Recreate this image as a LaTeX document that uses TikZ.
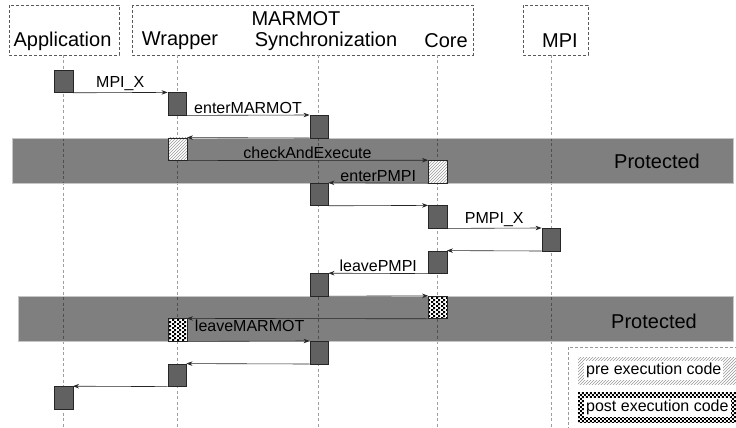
\documentclass[tikz,border=0pt]{standalone}
\usepackage{fontspec}
\setmainfont{Liberation Sans}
\usetikzlibrary{calc, positioning, patterns, arrows.meta}
% fine checker for the post execution blocks
\pgfdeclarepatternformonly{finechecker}{\pgfpointorigin}{\pgfpoint{4.4pt}{4.4pt}}{\pgfpoint{4.4pt}{4.4pt}}{
  \pgfpathrectangle{\pgfpointorigin}{\pgfpoint{2.2pt}{2.2pt}}
  \pgfpathrectangle{\pgfpoint{2.2pt}{2.2pt}}{\pgfpoint{2.2pt}{2.2pt}}
  \pgfusepath{fill}}

\begin{document}
\begin{tikzpicture}[>={Stealth[length=6pt,width=4.5pt]}, x=1pt, y=-1pt,
  head/.style={font=\fontsize{20}{22}\selectfont, inner sep=0pt},
  lbl/.style={font=\fontsize{16}{18}\selectfont, inner sep=1.5pt, text=black},
  act/.style={draw=black!85, fill=black!62, minimum width=18.5pt, minimum height=22.6pt, inner sep=0pt, line width=0.4pt},
  pre/.style={act, preaction={fill=white}, pattern=north east lines, pattern color=gray!80},
  post/.style={act, preaction={fill=white}, pattern=finechecker, pattern color=black},
  msg/.style={->, line width=0.6pt, black!85},
  life/.style={dash pattern=on 3pt off 2.5pt, gray!75, line width=0.7pt},
  hbox/.style={dash pattern=on 3pt off 2pt, black!65, line width=0.6pt},
  band/.style={fill=black, fill opacity=0.5, draw=gray!45, line width=0.5pt}]
  \useasboundingbox (0,0) rectangle (736,428);

  % headers
  \draw[hbox] (9,5) rectangle (119,55);
  \draw[hbox] (132,5) rectangle (473,55);
  \draw[hbox] (523,5) rectangle (588,55);
  \node[head] (app) at (62.5,41) {Application};
  \node[head] (wrap) at (180,41) {Wrapper};
  \node[head] (marmot) at (296,19) {MARMOT};
  \node[head] (sync) at (326,41) {Synchronization};
  \node[head] (core) at (446,41) {Core};
  \node[head] (mpi) at (560,41) {MPI};

  % lifelines
  \foreach \x in {63,177,318,437,551}
    \draw[life] (\x,55) -- (\x,430);

  % protected regions
  \draw[band] (12,137.8) rectangle (733,183);
  \draw[band] (18,296) rectangle (733,341.2);
  \node[head] (prot1) at (657,161) {Protected};
  \node[head] (prot2) at (654,321) {Protected};

  % activations
  \foreach \n/\x/\i/\s in {a1/63.5/0/act, w1/177/1/act, s1/319/2/act, w2/177.5/3/pre,
      c1/437.5/4/pre, s2/319/5/act, c2/437.5/6/act, m1/551/7/act, c3/437.5/8/act,
      s3/319/9/act, c4/437.5/10/post, w3/177.5/11/post, s4/319/12/act,
      w4/177/13/act, a2/63.5/14/act}
    \node[\s] (\n) at (\x,70+11.3+\i*22.6) {};

  % messages
  \draw[msg] (a1.south east) -- node[lbl, above] {MPI\_X} (w1.north west);
  \draw[msg] (w1.south east) -- node[lbl, above] {enterMARMOT} (s1.north west);
  \draw[msg] (s1.south west) -- (w2.north east);
  \draw[msg] (w2.south east) -- node[lbl, above] {checkAndExecute} (c1.north west);
  \draw[msg] (c1.south west) -- node[lbl, above] {enterPMPI} (s2.north east);
  \draw[msg] (s2.south east) -- (c2.north west);
  \draw[msg] (c2.south east) -- node[lbl, above] {PMPI\_X} (m1.north west);
  \draw[msg] (m1.south west) -- (c3.north east);
  \draw[msg] (c3.south west) -- node[lbl, above] {leavePMPI} (s3.north east);
  \draw[msg] (s3.south east) -- (c4.north west);
  \draw[msg] (c4.south west) -- node[lbl, below, pos=0.74] {leaveMARMOT} (w3.north east);
  \draw[msg] (w3.south east) -- (s4.north west);
  \draw[msg] (s4.south west) -- (w4.north east);
  \draw[msg] (w4.south west) -- (a2.north east);

  % legend
  \draw[hbox, gray!80] (568,347) rectangle (745,440);
  \fill[pattern=north east lines, pattern color=gray!80] (578,357) rectangle (745,384);
  \node[lbl, fill=white, anchor=west, inner sep=2pt, minimum height=16pt] (prekey) at (584,370.5) {pre execution code};
  \fill[pattern=finechecker, pattern color=black] (578,392) rectangle (745,422);
  \node[lbl, fill=white, anchor=west, inner sep=2pt, minimum height=19pt] (postkey) at (584,407) {post execution code};
\end{tikzpicture}
\end{document}
